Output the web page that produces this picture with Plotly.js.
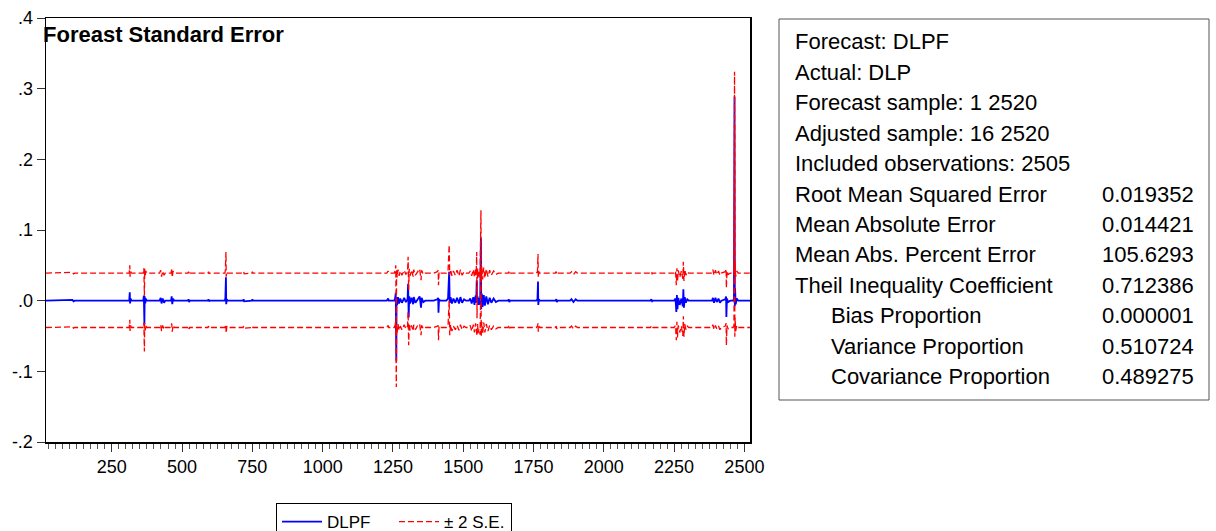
<!DOCTYPE html>
<html>
<head>
<meta charset="utf-8">
<script src="https://cdn.plot.ly/plotly-3.0.1.min.js"></script>
<style>
  html, body { margin: 0; padding: 0; background: #ffffff; }
  #chart { width: 1216px; height: 531px; }
</style>
</head>
<body>
<div id="chart"></div>
<script>
// ---- data ----
const obs = [16,110,114,118,312,314,315,317,320,362,364,366,367,369,371,374,420,424,427,431,436,440,461,463,465,468,472,521,523,525,527,592,594,596,598,652,654,656,657,659,662,717,719,721,748,750,752,1228,1233,1235,1255,1258,1260,1262,1263,1265,1268,1272,1276,1282,1290,1296,1302,1304,1306,1308,1311,1316,1322,1324,1330,1338,1345,1350,1352,1358,1365,1395,1408,1411,1412,1414,1418,1440,1446,1450,1452,1455,1460,1465,1472,1478,1485,1490,1496,1503,1510,1520,1525,1530,1536,1540,1544,1546,1548,1549,1551,1553,1556,1560,1563,1564,1566,1569,1573,1577,1582,1588,1594,1600,1608,1616,1625,1660,1662,1664,1666,1760,1764,1766,1767,1769,1772,1828,1831,1833,1836,1880,1885,1892,1900,1906,2166,2169,2172,2175,2250,2255,2258,2260,2262,2265,2270,2276,2281,2283,2285,2288,2292,2297,2302,2385,2388,2392,2397,2402,2408,2413,2418,2432,2435,2436,2438,2442,2450,2460,2463,2465,2466,2467,2469,2473,2478,2520];

const dlpf = [0,0.001,-0.001,0,0,0.012,-0.004,0.003,0,0,0.007,-0.033,0.006,-0.004,0.003,0,0,0.004,-0.004,0.003,-0.003,0,0,0.006,-0.005,0.003,0,0,0.002,-0.002,0,0,0.002,-0.001,0,0,0.004,0.033,-0.005,0.002,0,0,0.002,-0.001,0,0.002,0,0,0.003,0,0,0.004,0.011,-0.085,0.005,-0.006,0.005,-0.004,0.003,-0.003,0.004,-0.002,0.002,0.024,-0.024,0.006,-0.004,0.004,-0.005,0.005,-0.003,0.003,0.006,-0.010,0.004,-0.002,0,0,0.002,0.004,-0.017,0.002,0,0,0.003,0.041,-0.003,0.005,-0.004,0.003,-0.003,0.004,-0.004,0.005,-0.003,0.002,0,0,0.003,-0.004,0.005,-0.006,0.007,-0.003,0.029,-0.002,0.006,-0.006,0.004,-0.006,0.089,-0.012,0.010,-0.009,0.008,-0.007,0.006,-0.005,0.004,-0.003,0.003,-0.002,0,0,0.002,-0.002,0,0,0.002,0.027,-0.006,0.002,0,0,0.002,-0.002,0,0,0.002,-0.002,0.002,0,0,0.002,-0.001,0,0,0.003,-0.016,0.008,-0.012,0.004,-0.006,0.003,-0.008,0.016,-0.010,0.005,-0.003,0.002,0,0,0.004,-0.003,0.004,-0.002,0.003,-0.003,0,0.002,0.006,-0.023,0.003,-0.002,0,0,0.003,0.289,-0.008,0.017,-0.005,0.003,0,0];

const upperBand = [0.039,0.040,0.038,0.039,0.039,0.050,0.034,0.041,0.039,0.039,0.046,0.007,0.045,0.035,0.042,0.039,0.039,0.043,0.034,0.042,0.036,0.039,0.039,0.046,0.033,0.042,0.039,0.039,0.041,0.037,0.039,0.039,0.041,0.038,0.039,0.039,0.043,0.069,0.034,0.041,0.039,0.039,0.041,0.038,0.039,0.041,0.039,0.039,0.042,0.039,0.039,0.043,0.050,-0.045,0.044,0.033,0.044,0.035,0.042,0.036,0.043,0.037,0.041,0.062,0.015,0.045,0.035,0.043,0.034,0.044,0.036,0.042,0.045,0.029,0.043,0.037,0.039,0.039,0.041,0.043,0.022,0.041,0.039,0.039,0.042,0.079,0.036,0.044,0.035,0.042,0.036,0.043,0.035,0.044,0.036,0.041,0.039,0.039,0.042,0.035,0.044,0.033,0.046,0.036,0.069,-0.025,0.045,0.033,0.043,0.033,0.128,0.027,0.049,0.030,0.047,0.032,0.045,0.034,0.043,0.036,0.042,0.037,0.039,0.039,0.041,0.037,0.039,0.039,0.041,0.066,0.033,0.041,0.039,0.039,0.041,0.037,0.039,0.039,0.041,0.037,0.041,0.039,0.039,0.041,0.038,0.039,0.039,0.042,0.022,0.046,0.027,0.043,0.033,0.042,0.031,0.055,0.028,0.044,0.036,0.041,0.039,0.039,0.044,0.036,0.043,0.037,0.042,0.036,0.039,0.041,0.045,0.018,0.042,0.037,0.039,0.039,0.042,0.324,0.031,0.053,0.034,0.042,0.039,0.039];

const lowerBand = [-0.038,-0.037,-0.039,-0.038,-0.038,-0.027,-0.043,-0.035,-0.038,-0.038,-0.031,-0.072,-0.032,-0.042,-0.035,-0.038,-0.038,-0.034,-0.043,-0.035,-0.041,-0.038,-0.038,-0.032,-0.044,-0.035,-0.038,-0.038,-0.036,-0.040,-0.038,-0.038,-0.036,-0.039,-0.038,-0.038,-0.034,-0.038,-0.046,-0.036,-0.038,-0.038,-0.036,-0.039,-0.038,-0.036,-0.038,-0.038,-0.035,-0.038,-0.038,-0.034,-0.028,-0.122,-0.034,-0.045,-0.033,-0.042,-0.036,-0.041,-0.034,-0.040,-0.036,-0.016,-0.063,-0.032,-0.042,-0.035,-0.043,-0.034,-0.041,-0.035,-0.033,-0.049,-0.035,-0.040,-0.038,-0.038,-0.036,-0.035,-0.056,-0.036,-0.038,-0.038,-0.035,0.000,-0.049,-0.034,-0.043,-0.036,-0.041,-0.035,-0.042,-0.034,-0.041,-0.036,-0.038,-0.038,-0.035,-0.043,-0.034,-0.045,-0.032,-0.041,-0.038,-0.050,-0.033,-0.046,-0.040,-0.048,0.050,-0.051,-0.030,-0.047,-0.031,-0.045,-0.033,-0.043,-0.035,-0.041,-0.036,-0.040,-0.038,-0.038,-0.036,-0.040,-0.038,-0.038,-0.036,-0.032,-0.044,-0.036,-0.038,-0.038,-0.036,-0.040,-0.038,-0.038,-0.036,-0.040,-0.036,-0.038,-0.038,-0.036,-0.039,-0.038,-0.038,-0.035,-0.056,-0.030,-0.052,-0.035,-0.045,-0.036,-0.050,-0.022,-0.051,-0.033,-0.041,-0.036,-0.038,-0.038,-0.034,-0.041,-0.035,-0.040,-0.036,-0.041,-0.038,-0.036,-0.032,-0.063,-0.035,-0.040,-0.038,-0.038,-0.035,0.250,-0.051,-0.024,-0.043,-0.035,-0.038,-0.038];

const xTicks = [250, 500, 750, 1000, 1250, 1500, 1750, 2000, 2250, 2500];
const yTicks = [-0.2, -0.1, 0, 0.1, 0.2, 0.3, 0.4];
const yTickText = ['-.2', '-.1', '.0', '.1', '.2', '.3', '.4'];

const chartTitle = 'Foreast Standard Error';
const statLabels = ['Forecast: DLPF', 'Actual: DLP', 'Forecast sample: 1 2520', 'Adjusted sample: 16 2520',
  'Included observations: 2505', 'Root Mean Squared Error', 'Mean Absolute Error',
  'Mean Abs. Percent Error', 'Theil Inequality Coefficient', 'Bias Proportion',
  'Variance Proportion', 'Covariance Proportion'];
const statValues = ['', '', '', '', '', '0.019352', '0.014421', '105.6293', '0.712386', '0.000001', '0.510724', '0.489275'];
const statIndent = [false, false, false, false, false, false, false, false, false, true, true, true];

// ---- layout geometry (pixels) ----
const W = 1216, H = 531;
const PL = 46, PR = 750, PT = 18, PB = 442;
const pw = PR - PL, ph = PB - PT;
const px2x = p => (p - PL) / pw;
const py2y = p => (PB - p) / ph;

const FONT = '"Liberation Sans", Arial, Helvetica, sans-serif';

const traces = [
  {
    x: obs, y: dlpf, type: 'scatter', mode: 'lines', name: 'DLPF',
    line: { color: '#0000ff', width: 1.8 }, legendgroup: 'f'
  },
  {
    x: obs, y: upperBand, type: 'scatter', mode: 'lines', name: '± 2 S.E.',
    line: { color: '#ff0000', width: 1.3, dash: '6px,3px' }, legendgroup: 'se'
  },
  {
    x: obs, y: lowerBand, type: 'scatter', mode: 'lines', name: '± 2 S.E.',
    line: { color: '#ff0000', width: 1.3, dash: '6px,3px' }, legendgroup: 'se', showlegend: false
  }
];

const annotations = [];
annotations.push({
  text: '<b>' + chartTitle + '</b>', xref: 'paper', yref: 'paper',
  x: px2x(41), y: py2y(34), xanchor: 'left', yanchor: 'middle', showarrow: false,
  font: { family: FONT, size: 22, color: '#000' }
});
const lineY0 = 42, lineStep = 30.4;
statLabels.forEach((lab, i) => {
  const yy = py2y(lineY0 + i * lineStep);
  annotations.push({
    text: lab, xref: 'paper', yref: 'paper', x: px2x(statIndent[i] ? 829 : 793), y: yy,
    xanchor: 'left', yanchor: 'middle', showarrow: false,
    font: { family: FONT, size: 22, color: '#000' }
  });
  if (statValues[i]) {
    annotations.push({
      text: statValues[i], xref: 'paper', yref: 'paper', x: px2x(1196), y: yy,
      xanchor: 'right', yanchor: 'middle', showarrow: false,
      font: { family: FONT, size: 22, color: '#000' }
    });
  }
});

const layout = {
  width: W, height: H,
  margin: { l: PL, r: W - PR, t: PT, b: H - PB, pad: 0 },
  paper_bgcolor: '#ffffff', plot_bgcolor: '#ffffff',
  font: { family: FONT, size: 18, color: '#000' },
  showlegend: true,
  legend: {
    orientation: 'h', xref: 'container', yref: 'container',
    x: 276 / W, y: 1 - 503 / H, xanchor: 'left', yanchor: 'top',
    bordercolor: '#000', borderwidth: 1, bgcolor: '#fff',
    itemwidth: 40, entrywidth: 62, entrywidthmode: 'pixels',
    font: { family: FONT, size: 17, color: '#000' }, traceorder: 'normal'
  },
  xaxis: {
    range: [16, 2520], tickvals: xTicks, ticktext: xTicks.map(String),
    ticks: 'outside', ticklen: 8, tickwidth: 1, tickcolor: '#333',
    minor: { dtick: 25, tick0: 0, ticks: 'outside', ticklen: 5, tickwidth: 1, tickcolor: '#555', showgrid: false },
    showgrid: false, zeroline: false, showline: true, linecolor: '#000', linewidth: 1.5, mirror: true,
    tickfont: { family: FONT, size: 18, color: '#000' }, fixedrange: true
  },
  yaxis: {
    range: [-0.2, 0.4], tickvals: yTicks, ticktext: yTickText,
    ticks: 'outside', ticklen: 8, tickwidth: 1, tickcolor: '#333',
    showgrid: false, zeroline: false, showline: true, linecolor: '#000', linewidth: 1.5, mirror: true,
    tickfont: { family: FONT, size: 18, color: '#000' }, fixedrange: true
  },
  shapes: [{
    type: 'rect', xref: 'paper', yref: 'paper',
    x0: px2x(779), x1: px2x(1209), y0: py2y(400), y1: py2y(19),
    line: { color: '#555', width: 1 }, fillcolor: 'rgba(0,0,0,0)'
  }],
  annotations: annotations
};

Plotly.newPlot('chart', traces, layout, { staticPlot: true, displayModeBar: false });
</script>
</body>
</html>
